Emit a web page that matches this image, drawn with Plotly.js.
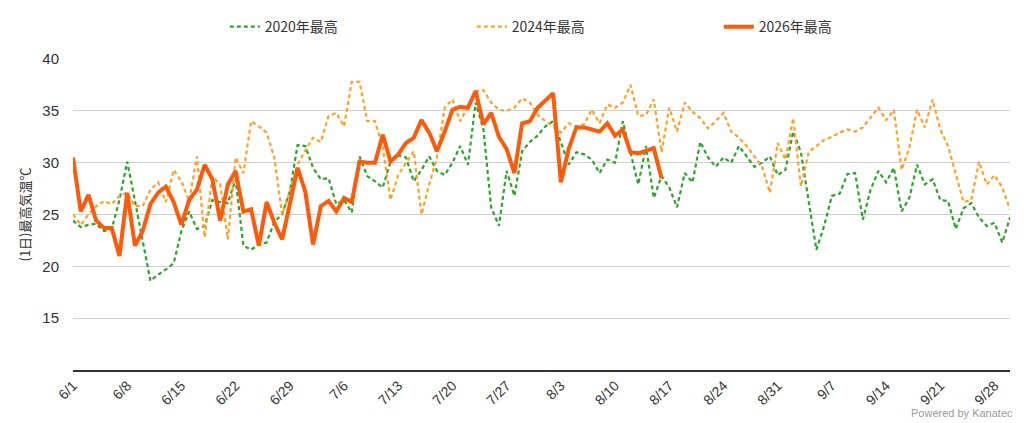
<!DOCTYPE html>
<html>
<head>
<meta charset="utf-8">
<script src="https://cdn.plot.ly/plotly-3.0.1.min.js"></script>
<style>
  html, body { margin: 0; padding: 0; background: #fff; }
  #chart { width: 1024px; height: 423px; }
</style>
</head>
<body>
<div id="chart"></div>
<script>
// daily max temperatures, 6/1 onwards
var max2020 = [24.4, 23.8, 24.0, 24.1, 23.4, 23.6, 26.4, 30.1, 26.3, 22.5,
  18.6, 19.2, 19.7, 20.3, 23.4, 25.3, 23.6, 23.9, 26.4, 26.2,
  26.1, 28.4, 22.0, 21.6, 22.1, 22.3, 24.3, 25.0, 27.2, 31.7,
  31.6, 29.5, 28.4, 28.5, 26.0, 26.4, 25.2, 30.6, 28.7, 28.2,
  27.6, 30.1, 30.7, 30.5, 28.2, 29.3, 30.6, 29.2, 28.8, 30.0,
  31.6, 29.8, 35.8, 33.2, 25.7, 23.9, 29.2, 26.8, 31.1, 32.0,
  32.6, 33.5, 34.0, 32.0, 29.8, 31.0, 30.8, 30.3, 29.0, 30.3,
  30.0, 34.0, 31.0, 27.9, 31.6, 26.6, 28.7, 27.6, 25.7, 29.0,
  28.1, 32.0, 30.5, 29.6, 30.5, 30.0, 31.6, 30.6, 29.6, 30.0,
  30.6, 28.8, 29.3, 33.0, 31.0, 26.3, 21.6, 23.9, 26.8, 27.0,
  28.9, 29.0, 24.5, 27.4, 29.2, 28.1, 29.5, 25.3, 26.6, 29.8,
  27.9, 28.4, 26.4, 26.3, 23.6, 25.6, 26.1, 24.7, 23.9, 24.2,
  22.3, 24.7];

var max2024 = [25.0, 24.0, 25.0, 25.8, 26.3, 26.0, 26.8, 27.1, 25.8, 25.8,
  27.4, 28.1, 26.2, 29.3, 28.2, 26.3, 30.6, 22.8, 28.6, 28.0,
  22.6, 30.5, 29.0, 34.0, 33.5, 32.9, 30.5, 25.0, 27.2, 29.8,
  31.2, 32.4, 32.0, 34.5, 34.8, 33.5, 37.8, 37.8, 34.0, 34.0,
  31.5, 26.4, 28.8, 30.0, 31.1, 25.0, 27.9, 30.5, 35.3, 36.1,
  34.0, 35.4, 36.9, 37.0, 35.8, 35.1, 35.0, 35.3, 36.2, 35.8,
  34.6, 34.0, 33.5, 32.9, 33.8, 33.5, 33.7, 35.1, 33.8, 35.6,
  35.3, 35.8, 37.5, 34.5, 34.6, 36.1, 31.0, 35.3, 33.0, 35.8,
  34.9, 34.3, 33.3, 34.0, 34.8, 33.0, 32.4, 31.6, 30.6, 29.6,
  27.1, 31.9, 30.3, 34.3, 27.7, 31.0, 31.6, 32.2, 32.5, 32.9,
  33.2, 33.0, 33.4, 34.3, 35.3, 34.1, 35.1, 29.3, 31.4, 35.1,
  33.4, 36.1, 33.2, 31.6, 28.8, 26.2, 26.4, 30.1, 27.9, 28.8,
  27.6, 25.5];

var max2026 = [30.5, 25.3, 26.9, 24.4, 23.7, 23.7, 21.0, 27.1, 22.0, 23.4,
  26.0, 27.1, 27.7, 26.2, 24.0, 26.4, 27.4, 29.8, 28.4, 24.4,
  27.9, 29.2, 25.3, 25.5, 22.0, 26.2, 24.2, 22.6, 26.0, 29.5,
  27.2, 22.1, 25.8, 26.3, 25.3, 26.6, 26.2, 30.1, 30.0, 30.0,
  32.7, 30.1, 30.8, 31.9, 32.4, 34.1, 32.9, 31.1, 33.0, 35.1,
  35.4, 35.3, 36.9, 33.7, 34.8, 32.5, 31.3, 29.0, 33.8, 34.0,
  35.3, 36.0, 36.7, 28.1, 31.3, 33.4, 33.4, 33.2, 33.0, 33.8,
  32.6, 33.2, 31.0, 30.9, 31.1, 31.4, 28.5];

var seriesNames = ['2020年最高', '2024年最高', '2026年最高'];
var yTicks = [15, 20, 25, 30, 35, 40];

// all years drawn on the same calendar (6/1 - 9/30)
var days = [];
var start = Date.UTC(2026, 5, 1);
for (var i = 0; i < max2020.length; i++) {
  var d = new Date(start + i * 86400000);
  days.push(d.toISOString().slice(0, 10));
}

var trace1 = {
  x: days,
  y: max2020,
  name: seriesNames[0],
  type: 'scatter',
  mode: 'lines',
  line: {color: '#2aa52a', width: 2.2, dash: '4px,3px'}
};

var trace2 = {
  x: days,
  y: max2024,
  name: seriesNames[1],
  type: 'scatter',
  mode: 'lines',
  line: {color: '#ffa126', width: 2.2, dash: '4px,3px'}
};

var trace3 = {
  x: days.slice(0, max2026.length),
  y: max2026,
  name: seriesNames[2],
  type: 'scatter',
  mode: 'lines',
  line: {color: '#ff5a0a', width: 4}
};

var layout = {
  width: 1024,
  height: 423,
  margin: {l: 73, r: 14, t: 59, b: 53},
  paper_bgcolor: '#fff',
  plot_bgcolor: '#fff',
  font: {family: 'Liberation Sans, Arial, sans-serif', color: '#333'},
  showlegend: true,
  legend: {
    orientation: 'h',
    x: 0.162, xanchor: 'left',
    yref: 'container',
    y: 0.936, yanchor: 'middle',
    entrywidth: 202,
    itemwidth: 30,
    font: {size: 14, color: '#333', family: 'Noto Sans CJK JP, sans-serif'}
  },
  xaxis: {
    type: 'date',
    range: ['2026-06-01', '2026-09-30'],
    tick0: '2026-06-01',
    dtick: 7 * 86400000,
    tickformat: '%-m/%-d',
    tickangle: -45,
    tickfont: {size: 14, color: '#333'},
    showgrid: false,
    zeroline: false,
    showline: true,
    linecolor: '#333',
    linewidth: 2,
    ticks: ''
  },
  yaxis: {
    range: [10, 40],
    tickvals: yTicks,
    tickfont: {size: 15, color: '#333'},
    ticklabelstandoff: 13,
    gridcolor: '#d0d0d0',
    gridwidth: 1,
    zeroline: false,
    showline: false,
    ticks: '',
    title: {
      text: '(1日)最高気温℃',
      font: {size: 13, color: '#333', family: 'Noto Sans CJK JP, sans-serif'},
      standoff: 8
    }
  },
  annotations: [{
    text: 'Powered by Kanatec',
    xref: 'paper', yref: 'paper',
    x: 1.005, xanchor: 'right',
    y: -0.165, yanchor: 'bottom',
    showarrow: false,
    font: {size: 11, color: '#999'}
  }]
};

Plotly.newPlot('chart', [trace1, trace2, trace3], layout, {displayModeBar: false});
</script>
</body>
</html>
